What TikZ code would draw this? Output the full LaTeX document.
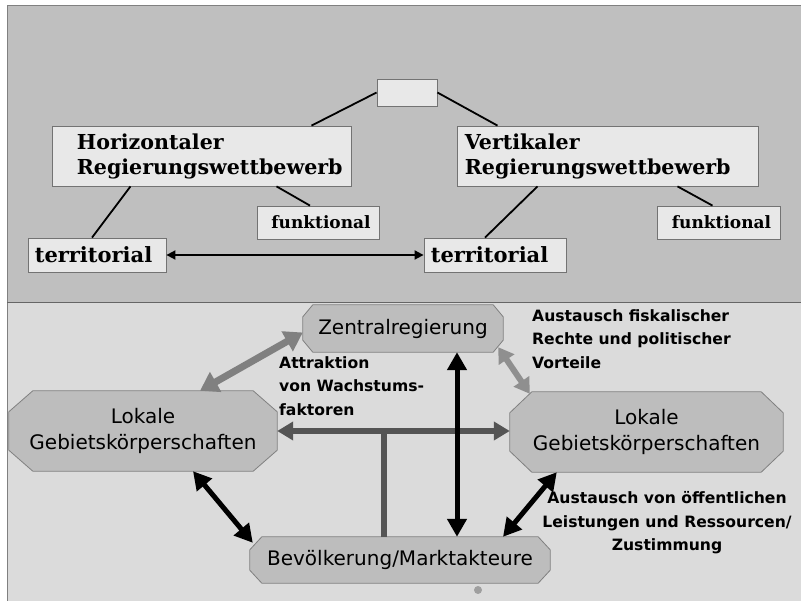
\documentclass[tikz,border=0pt]{standalone}
\usepackage{fontspec}
\setmainfont{DejaVu Serif}
\newfontfamily\topfont{DejaVu Serif}
\newfontfamily\octfont{DejaVu Sans}
\newfontfamily\annfont{DejaVu Sans}
\usetikzlibrary{arrows.meta,calc,backgrounds}
\definecolor{toppanel}{gray}{0.75}
\definecolor{botpanel}{gray}{0.86}
\definecolor{boxfill}{gray}{0.91}
\definecolor{boxline}{gray}{0.45}
\definecolor{octfillc}{gray}{0.74}
\definecolor{octline}{gray}{0.5}
\definecolor{garrow}{gray}{0.5}
\definecolor{larrow}{gray}{0.56}
\definecolor{darrow}{gray}{0.33}
\begin{document}
\begin{tikzpicture}[x=1pt,y=-1pt,
  tbox/.style={draw=boxline,fill=boxfill,line width=0.8pt,inner sep=0pt},
  tlabel/.style={font=\topfont\bfseries\fontsize{20.6}{25}\selectfont,align=left,inner sep=0pt},
  slabel/.style={font=\topfont\bfseries\fontsize{17}{20}\selectfont,inner sep=0pt},
  octnode/.style={inner sep=0pt,font=\octfont\fontsize{20}{26}\selectfont,align=center},
  octshape/.style={fill=octfillc,draw=octline,line width=0.8pt},
  ann/.style={font=\annfont\bfseries\fontsize{15.6}{23.5}\selectfont,inner sep=0pt},
  thinline/.style={line width=1.8pt,black},
]
\useasboundingbox (0,0) rectangle (801,601);
\begin{scope}[on background layer]
  \fill[white] (0,0) rectangle (801,601);
  \fill[toppanel] (7,5) rectangle (801,303);
  \fill[botpanel] (7,303) rectangle (801,601);
  \draw[gray,line width=0.8pt] (801,5) -- (7,5) -- (7,601);
  \draw[gray!80!black,line width=1pt] (7,303) -- (801,303);
\end{scope}

% top part
\node[tbox,minimum width=60,minimum height=27] (top) at (407,92.5) {};
\node[tbox,minimum width=299,minimum height=60] (hz) at (201.5,156) {};
\node[tlabel,anchor=west] (hzt) at ([xshift=25]hz.west) {Horizontaler\\Regierungswettbewerb};
\node[tbox,minimum width=301,minimum height=60] (vt) at (607.5,156) {};
\node[tlabel,anchor=west] (vtt) at ([xshift=8]vt.west) {Vertikaler\\Regierungswettbewerb};
\node[tbox,minimum width=122,minimum height=33] (fl) at (318,222.5) {};
\node[slabel] (flt) at ([xshift=3]fl.center) {funktional};
\node[tbox,minimum width=123,minimum height=33] (fr) at (718.5,222.5) {};
\node[slabel] (frt) at ([xshift=3]fr.center) {funktional};
\node[tbox,minimum width=138,minimum height=34] (tl) at (97,255) {};
\node[slabel,anchor=west,font=\topfont\bfseries\fontsize{21}{22}\selectfont] (tlt) at ([xshift=7]tl.west) {territorial};
\node[tbox,minimum width=142,minimum height=34] (tr) at (495,255) {};
\node[slabel,anchor=west,font=\topfont\bfseries\fontsize{21}{22}\selectfont] (trt) at ([xshift=7]tr.west) {territorial};

\draw[thinline] (top.west) -- ([xshift=110]hz.north);
\draw[thinline] (top.east) -- ([xshift=-110]vt.north);
\draw[thinline] ([xshift=-71]hz.south) -- ([xshift=-5]tl.north);
\draw[thinline] ([xshift=75]hz.south) -- ([xshift=-8]fl.north);
\draw[thinline] ([xshift=-70]vt.south) -- ([xshift=-10]tr.north);
\draw[thinline] ([xshift=70]vt.south) -- ([xshift=-6]fr.north);
\draw[thinline,{Triangle[width=9pt,length=9pt]}-{Triangle[width=9pt,length=9pt]}] (tl.east) -- (tr.west);

% bottom part
\node[octnode,minimum width=200,minimum height=47] (zr) at (403,328.5) {Zentralregierung};
\node[octnode,minimum width=268,minimum height=80] (ll) at (143,431) {Lokale\\Gebietskörperschaften};
\node[octnode,minimum width=273,minimum height=80] (lr) at (646.5,432) {Lokale\\Gebietskörperschaften};
\node[octnode,minimum width=300,minimum height=46] (bv) at (400,560) {Bevölkerung/Marktakteure};

\begin{scope}[on background layer]
\foreach \n/\cx/\cy in {zr/10/12,ll/24/21,lr/22/21,bv/12/13}{
  \draw[octshape] ($(\n.north west)+(\cx,0)$) -- ($(\n.north east)+(-\cx,0)$)
    -- ($(\n.north east)+(0,\cy)$) -- ($(\n.south east)+(0,-\cy)$)
    -- ($(\n.south east)+(-\cx,0)$) -- ($(\n.south west)+(\cx,0)$)
    -- ($(\n.south west)+(0,-\cy)$) -- ($(\n.north west)+(0,\cy)$) -- cycle;
}
\end{scope}

\draw[garrow,line width=7pt,{Triangle[width=22pt,length=18pt]}-{Triangle[width=22pt,length=18pt]}]
  ([xshift=57]ll.north) -- ([yshift=-4]zr.west);
\draw[larrow,line width=6pt,{Triangle[width=18pt,length=15pt]}-{Triangle[width=18pt,length=15pt]}]
  ([xshift=-5,yshift=5]zr.south east) -- ([xshift=20,yshift=-2]lr.north west);
\draw[darrow,line width=6pt] ([xshift=-16]bv.north) -- ([xshift=-16]bv.north |- ll.east);
\draw[darrow,line width=6pt,{Triangle[width=18pt,length=16pt]}-{Triangle[width=18pt,length=16pt]}]
  (ll.east) -- (ll.east -| lr.west);
\draw[black,line width=5pt,{Triangle[width=19pt,length=18pt]}-{Triangle[width=19pt,length=18pt]}]
  ([xshift=54]zr.south) -- ([xshift=54]zr.south |- bv.north);
\draw[black,line width=5pt,{Triangle[width=19pt,length=18pt]}-{Triangle[width=19pt,length=18pt]}]
  ([xshift=50]ll.south) -- ([xshift=3,yshift=-6]bv.north west);
\draw[black,line width=5pt,{Triangle[width=19pt,length=18pt]}-{Triangle[width=19pt,length=18pt]}]
  ([xshift=103]bv.north) -- ([xshift=47]lr.south west);

\node[ann,anchor=north west,align=left] (attr) at (279,356) {Attraktion\\von Wachstums-\\faktoren};
\node[ann,anchor=north west,align=left] (fisk) at (532,309) {Austausch fiskalischer\\Rechte und politischer\\Vorteile};
\node[ann,align=center] (aus) at (667,523) {Austausch von öffentlichen\\Leistungen und Ressourcen/\\Zustimmung};

\fill[gray!75] (478,590) circle (4);
\end{tikzpicture}
\end{document}
